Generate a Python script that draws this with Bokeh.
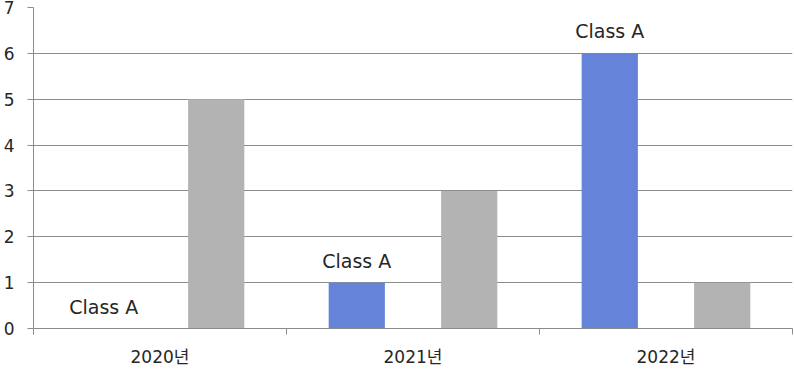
from bokeh.plotting import figure
from bokeh.models import Range1d, FixedTicker, LinearAxis, ColumnDataSource, LabelSet
from bokeh.core.properties import value
from bokeh.embed import file_html
from bokeh.resources import INLINE
import numpy as np

categories = ["2020년", "2021년", "2022년"]
class_a = [0, 1, 6]
other = [5, 3, 1]
label_text = "Class A"
y_ticks = [0, 1, 2, 3, 4, 5, 6, 7]

FONT = "DejaVu Sans, Noto Sans CJK KR"
TEXT_COLOR = "#262626"
LINE_COLOR = "#8c8c8c"

idx = np.arange(len(categories))
centers = idx + 0.5
bw = 2 / 9

src_a = ColumnDataSource(dict(x=centers - bw, top=class_a, label=[label_text] * len(categories)))
src_b = ColumnDataSource(dict(x=centers + bw, top=other))

p = figure(width=794, height=369,
           x_range=Range1d(0, len(categories)), y_range=Range1d(0, max(y_ticks)),
           output_backend="svg", toolbar_location=None,
           x_axis_location=None, y_axis_location=None,
           min_border_left=32, min_border_right=2, min_border_top=7, min_border_bottom=41)
p.outline_line_color = None
p.background_fill_color = "white"
p.border_fill_color = "white"

p.xgrid.visible = False
p.ygrid.ticker = FixedTicker(ticks=y_ticks)
p.ygrid.grid_line_color = LINE_COLOR
p.ygrid.grid_line_width = 1

p.vbar(x="x", top="top", bottom=0, width=bw, source=src_a, fill_color="#6483d9", line_color=None)
p.vbar(x="x", top="top", bottom=0, width=bw, source=src_b, fill_color="#b3b3b3", line_color=None)

labels = LabelSet(x="x", y="top", text="label", source=src_a, text_align="center",
                  text_baseline="alphabetic", y_offset=15,
                  text_font=value(FONT), text_font_size=value("19px"), text_color=TEXT_COLOR)
p.add_layout(labels)

yaxis = LinearAxis(ticker=FixedTicker(ticks=y_ticks))
yaxis.major_tick_out = 6
yaxis.major_tick_in = 0
yaxis.minor_tick_out = 0
yaxis.minor_tick_in = 0
yaxis.axis_line_color = LINE_COLOR
yaxis.major_tick_line_color = LINE_COLOR
yaxis.major_label_text_font = FONT
yaxis.major_label_text_font_size = "17px"
yaxis.major_label_text_color = TEXT_COLOR
yaxis.major_label_standoff = 13
p.add_layout(yaxis, "left")

boundaries = [float(i) for i in range(len(categories) + 1)]
xaxis = LinearAxis(ticker=FixedTicker(ticks=[float(c) for c in centers], minor_ticks=boundaries))
xaxis.major_label_overrides = {float(c): cat for c, cat in zip(centers, categories)}
xaxis.major_tick_out = 0
xaxis.major_tick_in = 0
xaxis.minor_tick_out = 6
xaxis.minor_tick_in = 0
xaxis.axis_line_color = LINE_COLOR
xaxis.minor_tick_line_color = LINE_COLOR
xaxis.major_label_text_font = FONT
xaxis.major_label_text_font_size = "17px"
xaxis.major_label_text_color = TEXT_COLOR
xaxis.major_label_standoff = 12
p.add_layout(xaxis, "below")

open("out.html", "w").write(file_html(p, INLINE))
